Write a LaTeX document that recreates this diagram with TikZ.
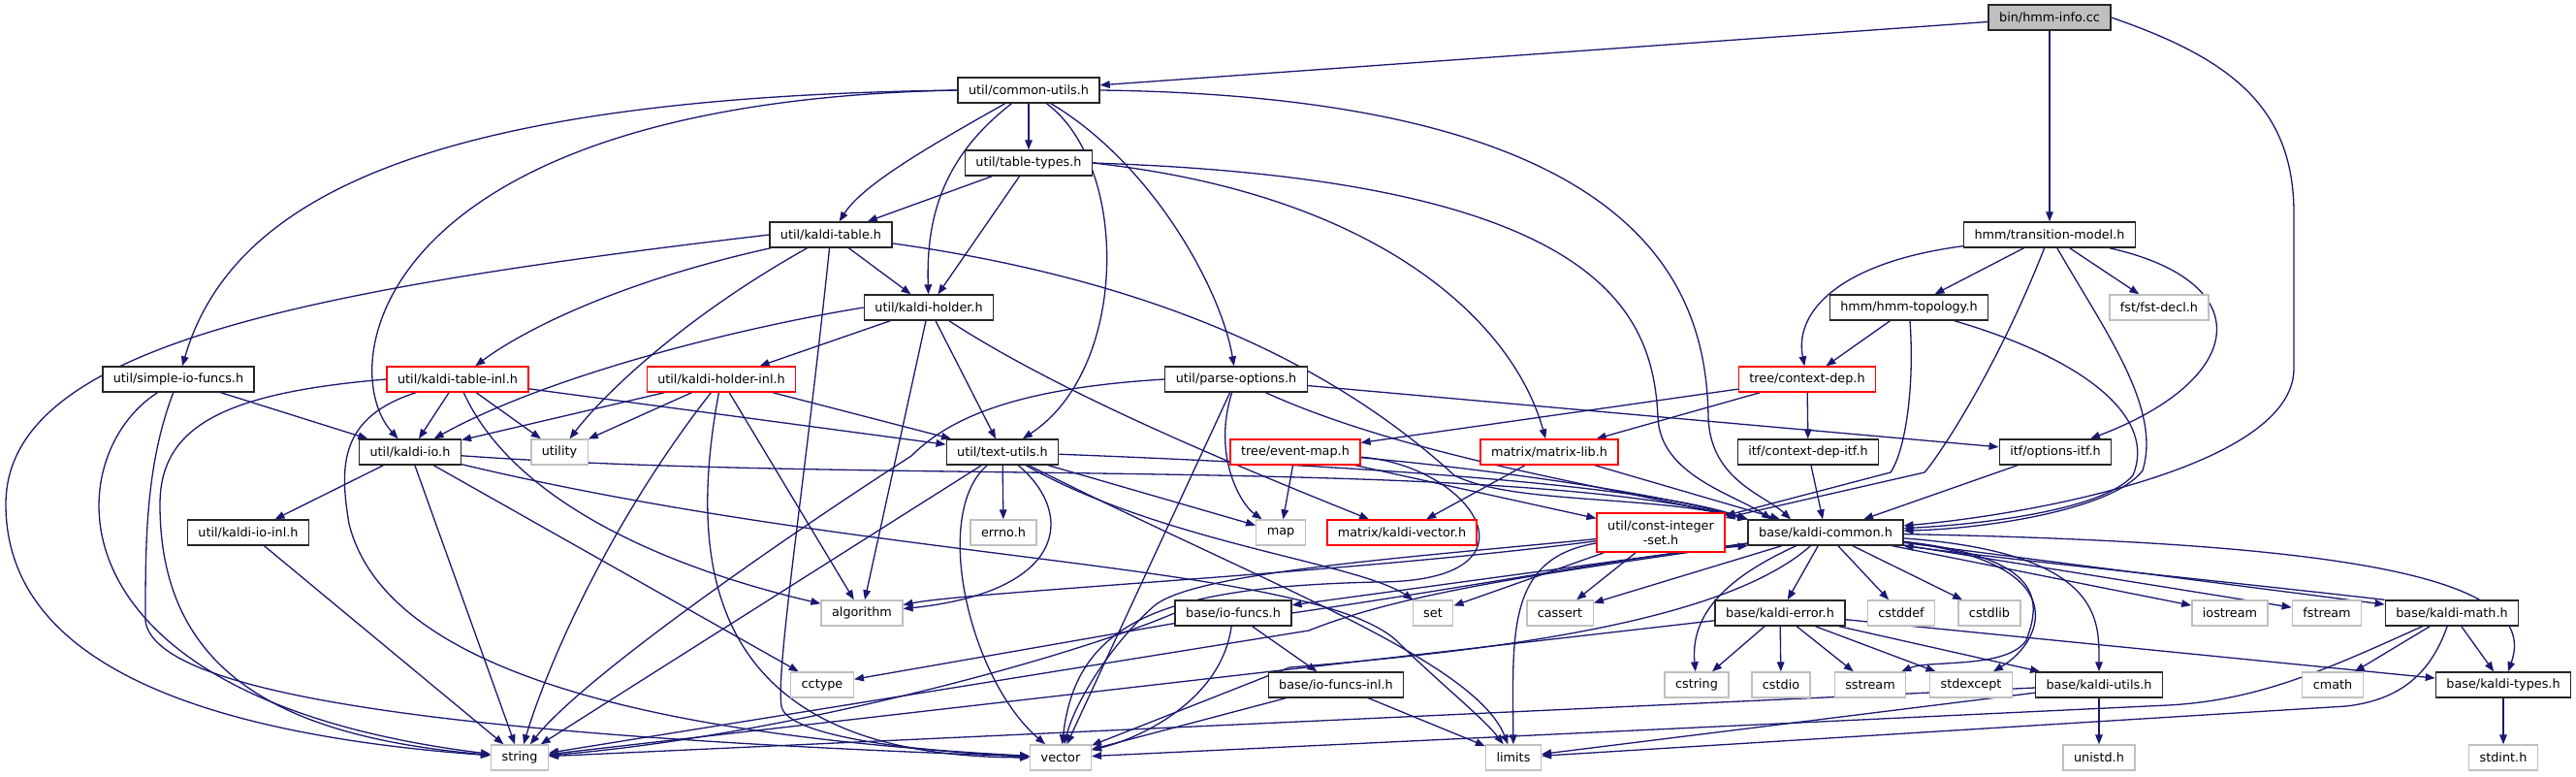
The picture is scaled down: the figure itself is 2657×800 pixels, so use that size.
\documentclass[tikz,border=0pt]{standalone}
\usepackage{fontspec}
\setmainfont{DejaVu Sans}
\usetikzlibrary{arrows.meta}
\definecolor{edgeblue}{HTML}{191970}
\pgfdeclarelayer{edges}
\pgfsetlayers{edges,main}

\begin{document}
\begin{tikzpicture}[x=0.5pt, y=-0.5pt,
    box/.style={draw, rectangle, fill=white, font=\fontsize{6.4}{7.6}\selectfont, inner xsep=5.5pt, inner ysep=0pt, minimum height=13pt, line width=0.7pt},
    hdr/.style={box, draw=black!85},
    sys/.style={box, draw=black!25},
    trunc/.style={box, draw=red},
    root/.style={box, draw=black!85, fill=black!25},
    inc/.style={draw=edgeblue, line width=0.65pt, -{Triangle[length=5pt, width=3.8pt]}}]
\useasboundingbox (0,0) rectangle (2657,800);

\node[root] (hmminfo) at (2114,18) {bin/hmm-info.cc};
\node[hdr] (comutils) at (1061,93) {util/common-utils.h};
\node[hdr] (tabtypes) at (1061,168) {util/table-types.h};
\node[hdr] (ktable) at (857,242) {util/kaldi-table.h};
\node[hdr] (transmodel) at (2114,242) {hmm/transition-model.h};
\node[hdr] (kholder) at (958,317) {util/kaldi-holder.h};
\node[hdr] (hmmtopo) at (1969,317) {hmm/hmm-topology.h};
\node[sys] (fstdecl) at (2227,317) {fst/fst-decl.h};
\node[hdr] (simpleio) at (184,391) {util/simple-io-funcs.h};
\node[trunc] (ktableinl) at (472,391) {util/kaldi-table-inl.h};
\node[trunc] (kholderinl) at (744,391) {util/kaldi-holder-inl.h};
\node[hdr] (parseopt) at (1275,391) {util/parse-options.h};
\node[trunc] (ctxdep) at (1864,391) {tree/context-dep.h};
\node[hdr] (kio) at (423,466) {util/kaldi-io.h};
\node[sys] (utility) at (577,466) {utility};
\node[hdr] (textutils) at (1034,466) {util/text-utils.h};
\node[trunc] (eventmap) at (1336,466) {tree/event-map.h};
\node[trunc] (matlib) at (1598,466) {matrix/matrix-lib.h};
\node[hdr] (ctxdepitf) at (1865,466) {itf/context-dep-itf.h};
\node[hdr] (optitf) at (2120,466) {itf/options-itf.h};
\node[hdr] (kioinl) at (256,549) {util/kaldi-io-inl.h};
\node[sys] (errno) at (1035,549) {errno.h};
\node[sys] (map) at (1321,549) {map};
\node[trunc] (kvector) at (1446,549) {matrix/kaldi-vector.h};
\node[trunc, minimum height=20pt, align=center] (cintset) at (1713,549) {util/const-integer\\-set.h};
\node[hdr] (kcommon) at (1883,549) {base/kaldi-common.h};
\node[sys] (algorithm) at (889,632) {algorithm};
\node[hdr] (iofuncs) at (1272,632) {base/io-funcs.h};
\node[sys] (set) at (1478,632) {set};
\node[sys] (cassert) at (1609,632) {cassert};
\node[hdr] (kerror) at (1836,632) {base/kaldi-error.h};
\node[sys] (cstddef) at (1961,632) {cstddef};
\node[sys] (cstdlib) at (2052,632) {cstdlib};
\node[sys] (iostream) at (2300,632) {iostream};
\node[sys] (fstream) at (2400,632) {fstream};
\node[hdr] (kmath) at (2529,632) {base/kaldi-math.h};
\node[sys] (cctype) at (848,706) {cctype};
\node[hdr] (iofuncsinl) at (1378,706) {base/io-funcs-inl.h};
\node[sys] (cstring) at (1750,706) {cstring};
\node[sys] (cstdio) at (1837,706) {cstdio};
\node[sys] (sstream) at (1929,706) {sstream};
\node[sys] (stdexcept) at (2033,706) {stdexcept};
\node[hdr] (kutils) at (2165,706) {base/kaldi-utils.h};
\node[sys] (cmath) at (2406,706) {cmath};
\node[hdr] (ktypes) at (2582,706) {base/kaldi-types.h};
\node[sys] (string) at (536,781) {string};
\node[sys] (vector) at (1094,781) {vector};
\node[sys] (limits) at (1561,781) {limits};
\node[sys] (unistd) at (2165,781) {unistd.h};
\node[sys] (stdint) at (2582,781) {stdint.h};

\begin{pgfonlayer}{edges}
\fill[white] (0,0) rectangle (2657,800);
\foreach \a/\b in {hmminfo/comutils, hmminfo/transmodel, comutils/tabtypes,
    tabtypes/ktable, tabtypes/kholder, ktable/kholder,
    kholder/kholderinl, kholder/algorithm, kholder/textutils,
    simpleio/kio, ktableinl/kio, ktableinl/utility, ktableinl/textutils,
    kholderinl/kio, kholderinl/utility, kholderinl/algorithm, kholderinl/textutils,
    parseopt/vector, parseopt/optitf, kio/kioinl, kio/string, kio/cctype, kioinl/string,
    textutils/errno, textutils/string, textutils/map,
    eventmap/map, eventmap/cintset, matlib/kvector, matlib/kcommon,
    ctxdep/eventmap, ctxdep/matlib, ctxdep/ctxdepitf, ctxdepitf/kcommon, optitf/kcommon,
    transmodel/hmmtopo, transmodel/fstdecl, hmmtopo/ctxdep,
    cintset/set, cintset/cassert,
    kcommon/iofuncs, kcommon/kerror, kcommon/cstddef, kcommon/cstdlib, kcommon/iostream,
    kcommon/fstream, kcommon/kmath, kcommon/cassert,
    kerror/cstring, kerror/cstdio, kerror/sstream, kerror/stdexcept, kerror/kutils,
    kerror/ktypes, kerror/string, kmath/cmath, kmath/ktypes,
    kutils/unistd, kutils/string, kutils/limits, ktypes/stdint,
    iofuncs/iofuncsinl, iofuncs/cctype, iofuncsinl/vector, iofuncsinl/limits}
  {\draw[inc] (\a) -- (\b);}

\draw[inc] (hmminfo.east) .. controls (2300,60) and (2366,110) .. (2366,220) -- (2366,380) .. controls (2366,480) and (2100,530) .. (kcommon);
\draw[inc] (comutils) .. controls (960,150) and (890,190) .. (ktable);
\draw[inc] (comutils) .. controls (975,160) and (955,220) .. (kholder);
\draw[inc] (comutils) .. controls (1165,170) and (1165,380) .. (textutils);
\draw[inc] (comutils) .. controls (1190,170) and (1260,300) .. (parseopt);
\draw[inc] (comutils.east) .. controls (1700,100) and (1760,300) .. (1762,430) .. controls (1764,495) and (1820,510) .. ([xshift=-18pt]kcommon.north);
\draw[inc] (comutils.west) .. controls (380,105) and (345,380) .. (kio);
\draw[inc] (comutils.west) .. controls (450,100) and (240,200) .. (simpleio);
\draw[inc] (tabtypes.east) .. controls (1420,200) and (1560,330) .. (matlib);
\draw[inc] (tabtypes.east) .. controls (1650,185) and (1705,320) .. (1710,430) .. controls (1712,490) and (1790,510) .. ([xshift=-28pt]kcommon.north);
\draw[inc] (ktable.west) .. controls (300,300) and (6,360) .. (6,520) .. controls (6,700) and (250,760) .. (string);
\draw[inc] (ktable) .. controls (640,290) and (540,340) .. (ktableinl);
\draw[inc] (ktable) .. controls (700,330) and (620,410) .. (utility);
\draw[inc] (ktable) .. controls (830,500) and (800,690) .. (806,728) .. controls (812,760) and (950,775) .. (vector);
\draw[inc] (ktable) .. controls (1200,290) and (1380,380) .. (1500,490) .. controls (1560,520) and (1700,510) .. (kcommon.north west);
\draw[inc] (kholder.west) .. controls (750,340) and (560,390) .. (kio);
\draw[inc] (kholder) .. controls (1100,410) and (1300,490) .. (kvector);
\draw[inc] (simpleio) .. controls (60,470) and (40,720) .. (string);
\draw[inc] (simpleio) .. controls (150,480) and (150,560) .. (150,640) .. controls (160,720) and (500,760) .. (vector);
\draw[inc] (ktableinl.west) .. controls (230,405) and (165,440) .. (165,520) .. controls (165,700) and (300,760) .. (string);
\draw[inc] (ktableinl) .. controls (350,430) and (350,480) .. (360,540) .. controls (400,700) and (700,760) .. (vector);
\draw[inc] (ktableinl) .. controls (540,540) and (750,600) .. (algorithm);
\draw[inc] (kholderinl) .. controls (620,550) and (560,700) .. (string);
\draw[inc] (kholderinl) .. controls (705,600) and (740,780) .. (vector);
\draw[inc] (parseopt.west) .. controls (1050,400) and (980,430) .. (940,470) .. controls (800,560) and (600,700) .. (string);
\draw[inc] (parseopt) .. controls (1250,470) and (1280,520) .. (map);
\draw[inc] (parseopt) .. controls (1450,470) and (1650,500) .. (kcommon.north west);
\draw[inc] (kio) .. controls (900,500) and (1550,470) .. (kcommon.north west);
\draw[inc] (kio) .. controls (900,580) and (1350,580) .. (1440,660) .. controls (1480,700) and (1530,740) .. (limits);
\draw[inc] (textutils) .. controls (1400,480) and (1700,500) .. (kcommon.north west);
\draw[inc] (textutils) .. controls (1110,530) and (1100,610) .. (algorithm);
\draw[inc] (textutils) .. controls (960,530) and (1000,700) .. (vector);
\draw[inc] (textutils) .. controls (1200,560) and (1400,580) .. (set);
\draw[inc] (textutils) .. controls (1300,600) and (1520,680) .. (limits);
\draw[inc] (eventmap) .. controls (1500,480) and (1700,505) .. (kcommon.north west);
\draw[inc] (eventmap) .. controls (1520,480) and (1600,600) .. (1420,600) .. controls (1200,605) and (1110,640) .. (vector);
\draw[inc] (transmodel) .. controls (1900,270) and (1850,320) .. (ctxdep);
\draw[inc] (transmodel) .. controls (2060,380) and (2000,470) .. (1985,487) -- (cintset);
\draw[inc] (transmodel) .. controls (2170,340) and (2230,420) .. (2210,485) .. controls (2180,525) and (2050,545) .. (kcommon);
\draw[inc] (transmodel) .. controls (2330,290) and (2320,390) .. (optitf);
\draw[inc] (hmmtopo) .. controls (1975,400) and (1965,465) .. (1950,487) -- (cintset);
\draw[inc] (hmmtopo) .. controls (2150,370) and (2225,430) .. (2200,490) .. controls (2170,525) and (2050,540) .. (kcommon);
\draw[inc] (cintset) .. controls (1400,590) and (1000,610) .. (algorithm);
\draw[inc] (cintset) .. controls (1555,575) and (1560,650) .. (limits);
\draw[inc] (cintset) .. controls (1450,575) and (1230,590) .. (1190,625) .. controls (1150,660) and (1110,720) .. (vector);
\draw[inc] (iofuncs.east) .. controls (1550,600) and (1700,570) .. (kcommon.south west);
\draw[inc] (kmath.north west) .. controls (2300,600) and (2100,580) .. (kcommon.south east);
\draw[inc] (kcommon) .. controls (1600,590) and (1450,610) .. (1350,650) -- (string);
\draw[inc] (kcommon) .. controls (1780,640) and (1550,670) .. (1330,688) -- (vector);
\draw[inc] (kcommon) .. controls (2450,560) and (2620,600) .. (ktypes);
\draw[inc] (kcommon) .. controls (2170,570) and (2165,640) .. (kutils);
\draw[inc] (kcommon) .. controls (2140,580) and (2110,660) .. (stdexcept);
\draw[inc] (kcommon) .. controls (2110,575) and (2105,620) .. (2090,660) .. controls (2070,690) and (1990,680) .. (sstream);
\draw[inc] (kcommon) .. controls (1770,600) and (1744,640) .. (cstring);
\draw[inc] (kmath) .. controls (2400,690) and (2330,722) .. (2236,727) -- (vector);
\draw[inc] (kmath) .. controls (2505,700) and (2470,722) .. (2420,728) -- (limits);
\draw[inc] (iofuncs) .. controls (1260,720) and (1180,760) .. (vector);
\draw[inc] (iofuncs.west) .. controls (1100,680) and (800,760) .. (string);
\end{pgfonlayer}
\end{tikzpicture}
\end{document}
